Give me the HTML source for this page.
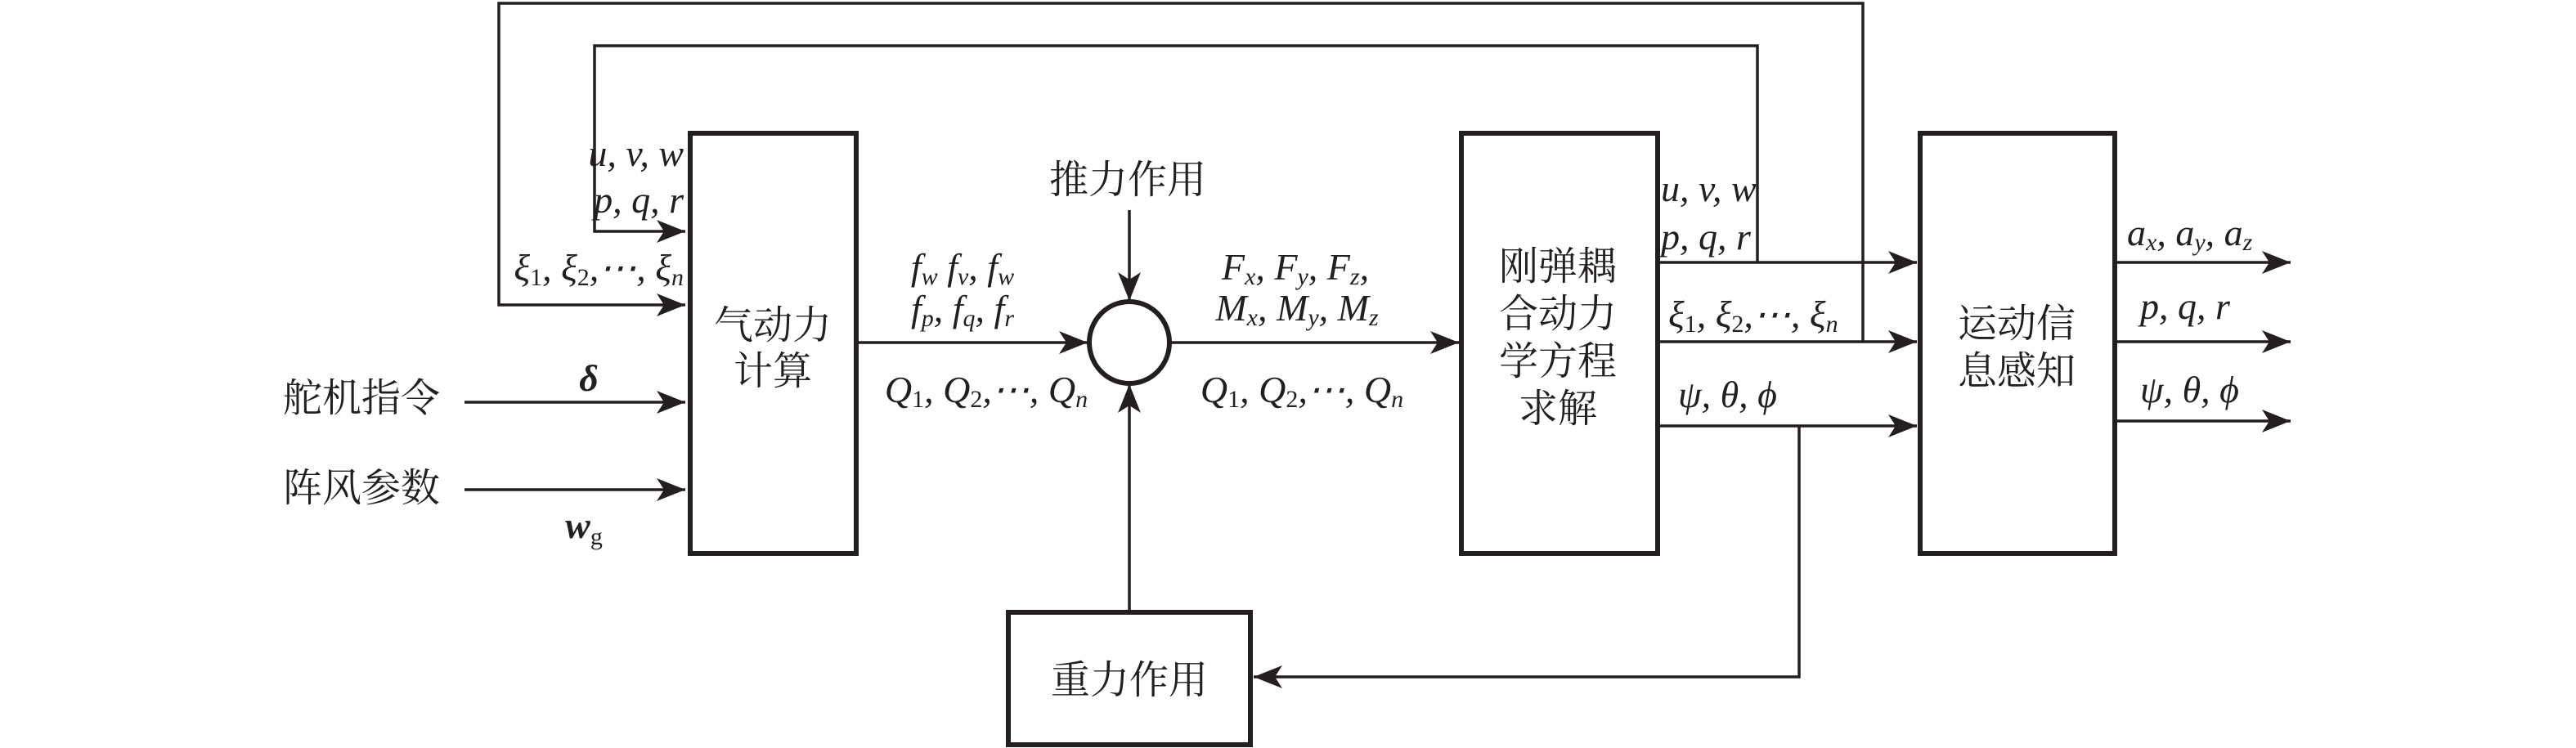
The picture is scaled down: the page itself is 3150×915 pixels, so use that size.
<!DOCTYPE html>
<html><head><meta charset="utf-8"><style>
html,body{margin:0;padding:0;background:#fff;}
svg{display:block;}
.m{font-family:"Liberation Serif",serif;font-style:italic;font-size:46px;fill:#231f20;}
.s{font-size:30px;}
.c{font-family:"Liberation Serif","Noto Serif CJK SC",serif;font-size:48px;fill:#231f20;}
</style></head><body>
<svg width="3150" height="915" viewBox="0 0 3150 915" xmlns="http://www.w3.org/2000/svg">
<defs><marker id="a" markerWidth="36" markerHeight="28" refX="35" refY="14" orient="auto" markerUnits="userSpaceOnUse"><path d="M0,0 L35,14 L0,28 L9,14 Z" fill="#231f20"/></marker></defs>
<g stroke="#231f20" fill="none">
<rect x="844" y="163" width="203" height="514" stroke-width="6"/>
<rect x="1787" y="163" width="240" height="514" stroke-width="6"/>
<rect x="2348" y="163" width="238" height="514" stroke-width="6"/>
<rect x="1233" y="749" width="296" height="162" stroke-width="6"/>
<ellipse cx="1381" cy="419" rx="49" ry="50" stroke-width="6"/>
<g stroke-width="3.5">
<polyline points="2278,418 2278,4 610,4 610,373 838,373" marker-end="url(#a)"/>
<polyline points="2149,321 2149,56 727,56 727,283 838,283" marker-end="url(#a)"/>
<line x1="568" y1="492" x2="838" y2="492" marker-end="url(#a)"/>
<line x1="568" y1="599" x2="838" y2="599" marker-end="url(#a)"/>
<line x1="1047" y1="419" x2="1330" y2="419" marker-end="url(#a)"/>
<line x1="1381" y1="257" x2="1381" y2="368" marker-end="url(#a)"/>
<line x1="1381" y1="749" x2="1381" y2="470" marker-end="url(#a)"/>
<line x1="1431" y1="419" x2="1784" y2="419" marker-end="url(#a)"/>
<line x1="2027" y1="321" x2="2344" y2="321" marker-end="url(#a)"/>
<line x1="2027" y1="418" x2="2344" y2="418" marker-end="url(#a)"/>
<line x1="2027" y1="521" x2="2344" y2="521" marker-end="url(#a)"/>
<polyline points="2200,521 2200,828 1533,828" marker-end="url(#a)"/>
<line x1="2586" y1="321" x2="2801" y2="321" marker-end="url(#a)"/>
<line x1="2586" y1="418" x2="2801" y2="418" marker-end="url(#a)"/>
<line x1="2586" y1="515" x2="2801" y2="515" marker-end="url(#a)"/>
</g></g>
<text class="c" x="442" y="503" text-anchor="middle">舵机指令</text>
<text class="c" x="442" y="613" text-anchor="middle">阵风参数</text>
<text class="c" x="945" y="414" text-anchor="middle">气动力</text>
<text class="c" x="945" y="470" text-anchor="middle">计算</text>
<text class="c" x="1379" y="236" text-anchor="middle">推力作用</text>
<text class="c" x="1381" y="848" text-anchor="middle">重力作用</text>
<text class="c" x="1905" y="342" text-anchor="middle">刚弹耦</text>
<text class="c" x="1905" y="400" text-anchor="middle">合动力</text>
<text class="c" x="1905" y="458" text-anchor="middle">学方程</text>
<text class="c" x="1905" y="516" text-anchor="middle">求解</text>
<text class="c" x="2466" y="412" text-anchor="middle">运动信</text>
<text class="c" x="2466" y="470" text-anchor="middle">息感知</text>
<text class="m" x="720" y="478" text-anchor="middle" font-weight="bold">δ</text>
<text class="m" x="714" y="658" text-anchor="middle" font-weight="bold">w<tspan class="s" font-style="normal" font-weight="normal" dy="8">g</tspan></text>
<text class="m" x="836" y="203" text-anchor="end">u, v, w</text>
<text class="m" x="836" y="260" text-anchor="end">p, q, r</text>
<text class="m" x="836" y="343" text-anchor="end">ξ<tspan class="s" font-style="normal" dy="6">1</tspan><tspan dy="-6">, ξ</tspan><tspan class="s" font-style="normal" dy="6">2</tspan><tspan dy="-6">,⋯, ξ</tspan><tspan class="s" dy="6">n</tspan></text>
<text class="m" x="1177" y="342" text-anchor="middle">f<tspan class="s" dy="6">w</tspan><tspan dy="-6"> f</tspan><tspan class="s" dy="6">v</tspan><tspan dy="-6">, f</tspan><tspan class="s" dy="6">w</tspan></text>
<text class="m" x="1177" y="393" text-anchor="middle">f<tspan class="s" dy="6">p</tspan><tspan dy="-6">, f</tspan><tspan class="s" dy="6">q</tspan><tspan dy="-6">, f</tspan><tspan class="s" dy="6">r</tspan></text>
<text class="m" x="1206" y="492" text-anchor="middle">Q<tspan class="s" font-style="normal" dy="6">1</tspan><tspan dy="-6">, Q</tspan><tspan class="s" font-style="normal" dy="6">2</tspan><tspan dy="-6">,⋯, Q</tspan><tspan class="s" dy="6">n</tspan></text>
<text class="m" x="1584" y="342" text-anchor="middle">F<tspan class="s" dy="6">x</tspan><tspan dy="-6">, F</tspan><tspan class="s" dy="6">y</tspan><tspan dy="-6">, F</tspan><tspan class="s" dy="6">z</tspan><tspan dy="-6">,</tspan></text>
<text class="m" x="1586" y="392" text-anchor="middle">M<tspan class="s" dy="6">x</tspan><tspan dy="-6">, M</tspan><tspan class="s" dy="6">y</tspan><tspan dy="-6">, M</tspan><tspan class="s" dy="6">z</tspan></text>
<text class="m" x="1592" y="492" text-anchor="middle">Q<tspan class="s" font-style="normal" dy="6">1</tspan><tspan dy="-6">, Q</tspan><tspan class="s" font-style="normal" dy="6">2</tspan><tspan dy="-6">,⋯, Q</tspan><tspan class="s" dy="6">n</tspan></text>
<text class="m" x="2031" y="246">u, v, w</text>
<text class="m" x="2031" y="305">p, q, r</text>
<text class="m" x="2040" y="400">ξ<tspan class="s" font-style="normal" dy="6">1</tspan><tspan dy="-6">, ξ</tspan><tspan class="s" font-style="normal" dy="6">2</tspan><tspan dy="-6">,⋯, ξ</tspan><tspan class="s" dy="6">n</tspan></text>
<text class="m" x="2052" y="498">ψ, θ, ϕ</text>
<text class="m" x="2601" y="300">a<tspan class="s" dy="6">x</tspan><tspan dy="-6">, a</tspan><tspan class="s" dy="6">y</tspan><tspan dy="-6">, a</tspan><tspan class="s" dy="6">z</tspan></text>
<text class="m" x="2617" y="390">p, q, r</text>
<text class="m" x="2617" y="492">ψ, θ, ϕ</text>
</svg>
</body></html>
